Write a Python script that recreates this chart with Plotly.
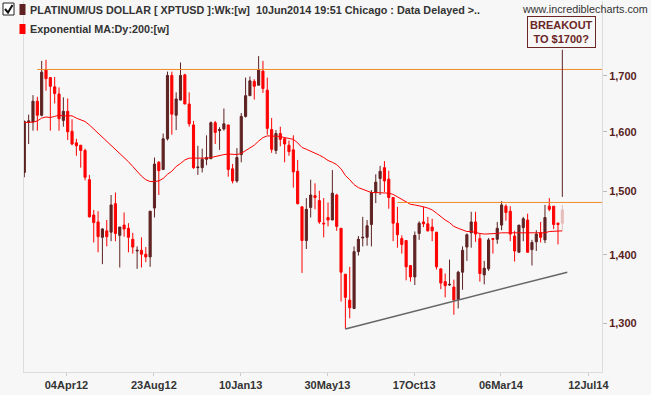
import math
import pandas as pd
import plotly.graph_objects as go

# ---------------- data ----------------
first_week = "2012-01-27"
opens = [1531,1617,1617,1654,1629,1711,1697,1680,1667,1620,1636,1601,1581,1577,1568,1519,1462,1451,1427,1437,1435,1480,1430,1446,1441,
         1424,1406,1407,1401,1397,1473,1548,1536,1588,1701,1629,1656,1702,1649,1612,1539,1539,1553,1554,1616,1602,1605,1612,1537,1517,
         1561,1627,1664,1690,1683,1709,1674,1604,1568,1597,1588,1577,1569,1533,1475,1422,1474,1493,1485,1449,1458,1454,1494,1441,1371,
         1333,1321,1405,1426,1427,1447,1498,1521,1539,1520,1490,1449,1425,1422,1384,1367,1433,1451,1448,1443,1435,1379,1360,1355,1352,
         1334,1374,1412,1434,1451,1425,1370,1379,1425,1424,1446,1476,1468,1429,1404,1442,1454,1408,1420,1434,1423,1476,1476,1449,1449]
highs = [1620,1630,1665,1662,1728,1730,1697,1698,1679,1661,1659,1622,1588,1577,1571,1527,1470,1468,1441,1454,1494,1498,1443,1466,1449,
         1434,1413,1427,1412,1468,1556,1550,1597,1708,1708,1670,1725,1704,1670,1619,1576,1571,1594,1618,1619,1608,1641,1612,1545,1572,
         1633,1697,1699,1694,1737,1728,1697,1624,1603,1609,1591,1585,1594,1552,1475,1489,1519,1513,1501,1489,1482,1535,1496,1441,1371,
         1382,1413,1429,1459,1454,1502,1528,1542,1550,1534,1490,1475,1430,1422,1384,1436,1452,1475,1459,1456,1435,1379,1372,1393,1363,
         1376,1413,1433,1467,1467,1433,1391,1426,1426,1451,1484,1479,1476,1437,1446,1459,1464,1423,1438,1451,1478,1489,1476,1450,1478]
lows = [1523,1579,1602,1602,1627,1673,1602,1650,1602,1609,1586,1577,1559,1539,1518,1458,1419,1404,1386,1413,1421,1421,1381,1428,1404,
        1402,1379,1381,1389,1382,1458,1494,1535,1585,1595,1603,1656,1649,1609,1537,1527,1531,1543,1554,1579,1569,1602,1524,1513,1514,
        1548,1625,1664,1657,1683,1669,1595,1564,1562,1575,1548,1559,1506,1479,1373,1409,1458,1471,1448,1427,1444,1454,1437,1331,1292,
        1307,1320,1399,1413,1414,1413,1481,1494,1499,1472,1421,1411,1402,1362,1360,1355,1423,1443,1436,1421,1378,1349,1337,1354,1312,
        1321,1348,1391,1411,1420,1360,1356,1376,1402,1417,1438,1453,1421,1390,1404,1421,1404,1384,1406,1419,1418,1468,1440,1416,1438]
closes = [1618,1619,1654,1629,1707,1695,1681,1668,1623,1636,1600,1579,1576,1568,1523,1459,1450,1428,1440,1428,1478,1433,1443,1440,1427,
          1412,1407,1401,1397,1468,1545,1534,1588,1701,1631,1658,1701,1649,1614,1539,1540,1553,1556,1616,1599,1604,1614,1536,1517,1556,
          1627,1664,1691,1681,1711,1677,1606,1570,1597,1587,1579,1566,1532,1480,1422,1471,1494,1490,1451,1448,1454,1497,1444,1374,1337,
          1322,1405,1424,1427,1445,1498,1515,1533,1517,1490,1449,1431,1416,1382,1367,1430,1449,1448,1437,1437,1382,1358,1354,1356,1333,
          1374,1407,1431,1451,1432,1372,1380,1423,1424,1441,1478,1466,1432,1406,1446,1456,1404,1419,1432,1427,1458,1471,1447,1447,1470]
ema_200 = [1616,1616,1617,1619,1624,1626,1625,1627,1629,1628,1628,1628,1624,1621,1618,1612,1605,1597,1590,1583,1576,1570,1563,1557,1549,
           1541,1532,1525,1519,1516,1516,1517,1521,1528,1533,1541,1546,1552,1555,1555,1554,1554,1555,1556,1558,1559,1561,1562,1561,1561,
           1563,1568,1573,1577,1584,1590,1593,1593,1592,1592,1590,1589,1587,1581,1573,1570,1567,1563,1560,1556,1551,1548,1544,1537,1526,
           1519,1511,1506,1503,1500,1498,1498,1498,1498,1497,1495,1491,1487,1482,1479,1478,1477,1475,1473,1470,1465,1459,1454,1450,1444,
           1441,1438,1436,1436,1434,1433,1432,1432,1432,1433,1434,1434,1434,1433,1433,1433,1433,1433,1433,1433,1434,1436,1436,1437,1437]

y_ticks = [1300, 1400, 1500, 1600, 1700]
y_tick_labels = ["1,300", "1,400", "1,500", "1,600", "1,700"]
x_tick_dates = ["2012-04-04", "2012-08-23", "2013-01-10", "2013-05-30", "2013-10-17", "2014-03-06", "2014-07-25"]
x_tick_labels = ["04Apr12", "23Aug12", "10Jan13", "30May13", "17Oct13", "06Mar14", "12Jul14"]

upper_line_dates = ["2012-02-17", "2014-08-16"]
upper_line_values = [1712, 1712]
lower_line_dates = ["2013-09-20", "2014-08-16"]
lower_line_values = [1482, 1482]
trend_dates = ["2013-06-28", "2014-06-21"]
trend_values = [1292, 1374]
callout_values = [1491, 1749]

title_text = "PLATINUM/US DOLLAR [ XPTUSD ]:Wk:[w]&nbsp; 10Jun2014 19:51 Chicago : Data Delayed >.."
ma_text = "Exponential MA:Dy:200:[w]"

dates = pd.date_range(first_week, periods=len(opens), freq="7D")

# ---------------- styling ----------------
UP = "#5e2222"
DOWN = "#ff0000"
PINK = "#e6bcbc"
BG = "#f7f7f7"
FONT = "Liberation Sans"
W, H = 651, 395
ML, MR, MT, MB = 24, 49, 1, 23
PW, PH = W - ML - MR, H - MT - MB

def px(xp):
    return (xp - ML) / PW

def py(yp):
    return 1 - (yp - MT) / PH

fig = go.Figure()

fig.add_trace(go.Candlestick(
    x=dates[:-1], open=opens[:-1], high=highs[:-1], low=lows[:-1], close=closes[:-1],
    increasing=dict(line=dict(color=UP, width=1), fillcolor=UP),
    decreasing=dict(line=dict(color=DOWN, width=1), fillcolor=DOWN),
    whiskerwidth=0, showlegend=False, hoverinfo="skip"))
fig.add_trace(go.Candlestick(
    x=dates[-1:], open=opens[-1:], high=highs[-1:], low=lows[-1:], close=closes[-1:],
    increasing=dict(line=dict(color=PINK, width=1), fillcolor=PINK),
    decreasing=dict(line=dict(color=PINK, width=1), fillcolor=PINK),
    whiskerwidth=0, showlegend=False, hoverinfo="skip"))

fig.add_trace(go.Scatter(x=dates, y=ema_200, mode="lines",
                         line=dict(color="#ff0000", width=1), showlegend=False, hoverinfo="skip"))

fig.add_trace(go.Scatter(x=upper_line_dates, y=upper_line_values, mode="lines",
                         line=dict(color="#ee8a2a", width=1), showlegend=False, hoverinfo="skip"))
fig.add_trace(go.Scatter(x=lower_line_dates, y=lower_line_values, mode="lines",
                         line=dict(color="#ee8a2a", width=1), showlegend=False, hoverinfo="skip"))
fig.add_trace(go.Scatter(x=trend_dates, y=trend_values, mode="lines",
                         line=dict(color="#666666", width=1.5), showlegend=False, hoverinfo="skip"))
fig.add_trace(go.Scatter(x=[dates[-1], dates[-1]], y=callout_values, mode="lines",
                         line=dict(color="#5e2222", width=1), showlegend=False, hoverinfo="skip"))

fig.update_layout(
    width=W, height=H,
    margin=dict(l=ML, r=MR, t=MT, b=MB),
    paper_bgcolor=BG, plot_bgcolor=BG,
    font=dict(family=FONT),
    showlegend=False,
    xaxis=dict(
        type="date", range=["2012-01-26 12:00", "2014-08-16"],
        tickvals=x_tick_dates, ticktext=x_tick_labels,
        tickfont=dict(size=11, color="#333333", family=FONT, weight="bold"),
        ticks="outside", ticklen=3, tickcolor="#cccccc",
        showgrid=False, zeroline=False,
        showline=True, linecolor="#dddddd", linewidth=1,
        rangeslider=dict(visible=False)),
    yaxis=dict(
        type="log", side="right",
        range=[math.log10(1233), math.log10(1844)],
        tickvals=y_ticks, ticktext=y_tick_labels,
        tickfont=dict(size=11, color="#5a1e1e", family=FONT, weight="bold"),
        ticks="outside", ticklen=4, tickcolor="#bbbbbb",
        showgrid=False, zeroline=False,
        showline=True, mirror=True, linecolor="#dddddd", linewidth=1),
)

shapes = [
    # checkbox
    dict(type="rect", xref="paper", yref="paper", x0=px(3), x1=px(14), y0=py(15), y1=py(3),
         line=dict(color="#222222", width=1), fillcolor="#ffffff"),
    dict(type="path", xref="paper", yref="paper",
         path=f"M {px(5)},{py(9)} L {px(8)},{py(12.5)} L {px(12.5)},{py(5)}",
         line=dict(color="#111111", width=2)),
    # series swatches
    dict(type="rect", xref="paper", yref="paper", x0=px(19.5), x1=px(25.5), y0=py(15), y1=py(4),
         line=dict(width=0), fillcolor=UP),
    dict(type="rect", xref="paper", yref="paper", x0=px(19.5), x1=px(25.5), y0=py(34), y1=py(24),
         line=dict(width=0), fillcolor="#ff0000"),
]
fig.update_layout(shapes=shapes)

annotations = [
    dict(text=title_text, xref="paper", yref="paper", x=px(28), y=py(10), xanchor="left", yanchor="middle",
         showarrow=False, font=dict(size=10.8, color="#333333", family=FONT, weight="bold")),
    dict(text=ma_text, xref="paper", yref="paper", x=px(28), y=py(29), xanchor="left", yanchor="middle",
         showarrow=False, font=dict(size=10.8, color="#333333", family=FONT, weight="bold")),
    dict(text="www.incrediblecharts.com", xref="paper", yref="paper", x=px(520), y=py(9),
         xanchor="left", yanchor="middle", showarrow=False,
         font=dict(size=10.8, color="#333333", family=FONT)),
    dict(text="BREAKOUT<br>TO $1700?", xref="paper", yref="paper", x=px(561), y=py(32.5),
         xanchor="center", yanchor="middle", showarrow=False, align="center",
         bordercolor="#6b2626", borderwidth=1, borderpad=2, bgcolor=BG,
         font=dict(size=11, color="#6b2626", family=FONT, weight="bold")),
]
fig.update_layout(annotations=annotations)

fig.write_html("out.html",
               config={"displayModeBar": False},
               post_script="document.body.style.margin='0';document.body.style.background='#f7f7f7';")
